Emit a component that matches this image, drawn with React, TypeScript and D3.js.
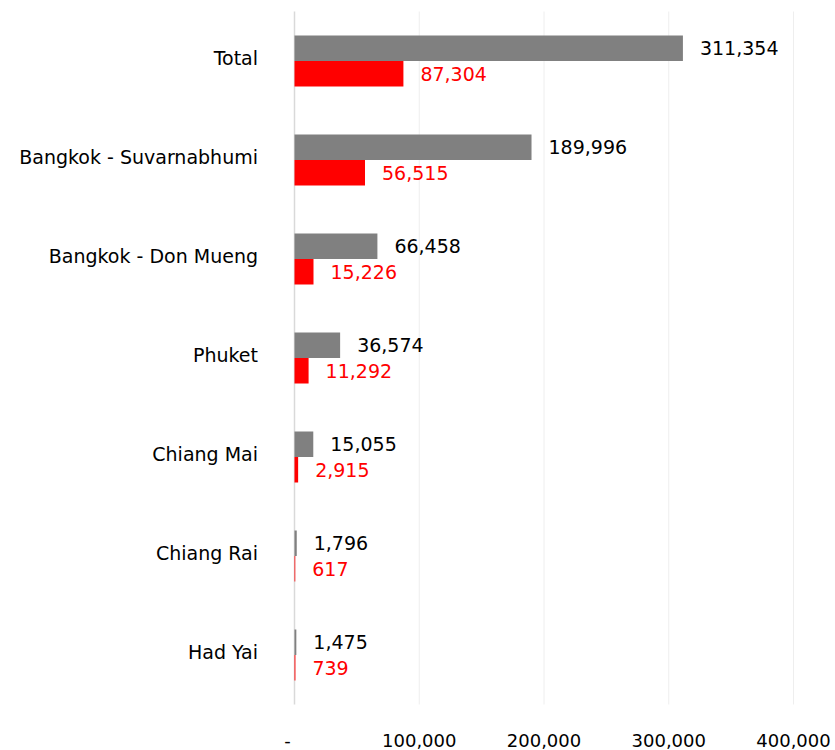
import React, { useEffect, useRef } from "react";
import * as d3 from "d3";

const categories = [
  "Total",
  "Bangkok - Suvarnabhumi",
  "Bangkok - Don Mueng",
  "Phuket",
  "Chiang Mai",
  "Chiang Rai",
  "Had Yai",
];
const grayValues = [311354, 189996, 66458, 36574, 15055, 1796, 1475];
const redValues = [87304, 56515, 15226, 11292, 2915, 617, 739];
const tickValues = [0, 100000, 200000, 300000, 400000];
const tickLabels = ["-", "100,000", "200,000", "300,000", "400,000"];

const App = () => {
  const ref = useRef<SVGSVGElement>(null);

  useEffect(() => {
    const svg = d3.select(ref.current);
    svg.selectAll("*").remove();

    const font = "'DejaVu Sans', Tahoma, sans-serif";
    const fmt = d3.format(",");

    const x = d3.scaleLinear().domain([0, 400000]).range([294.5, 793.5]);
    const y = d3
      .scaleBand()
      .domain(categories)
      .range([11.5, 704.5])
      .paddingInner(0)
      .paddingOuter(0);
    const band = y.bandwidth();
    const barH = 25.5;

    // gridlines
    svg
      .append("g")
      .selectAll("line")
      .data(tickValues.slice(1))
      .join("line")
      .attr("x1", (d) => x(d))
      .attr("x2", (d) => x(d))
      .attr("y1", 11.5)
      .attr("y2", 704.5)
      .attr("stroke", "#eeeeee")
      .attr("stroke-width", 1);

    // axis line
    svg
      .append("line")
      .attr("x1", x(0))
      .attr("x2", x(0))
      .attr("y1", 11.5)
      .attr("y2", 704.5)
      .attr("stroke", "#d9d9d9")
      .attr("stroke-width", 1.5);

    const rows = svg
      .append("g")
      .selectAll("g")
      .data(categories)
      .join("g")
      .attr("transform", (d) => `translate(0, ${(y(d) as number) + band / 2})`);

    rows
      .append("rect")
      .attr("x", x(0))
      .attr("y", -barH)
      .attr("width", (d, i) => x(grayValues[i]) - x(0))
      .attr("height", barH)
      .attr("fill", "#808080");

    rows
      .append("rect")
      .attr("x", x(0))
      .attr("y", 0)
      .attr("width", (d, i) => x(redValues[i]) - x(0))
      .attr("height", barH)
      .attr("fill", "#ff0000");

    rows
      .append("text")
      .attr("x", (d, i) => x(grayValues[i]) + 17)
      .attr("y", -barH / 2)
      .attr("dominant-baseline", "central")
      .attr("font-family", font)
      .attr("font-size", 19)
      .attr("fill", "#000")
      .text((d, i) => fmt(grayValues[i]));

    rows
      .append("text")
      .attr("x", (d, i) => x(redValues[i]) + 17)
      .attr("y", barH / 2)
      .attr("dominant-baseline", "central")
      .attr("font-family", font)
      .attr("font-size", 19)
      .attr("fill", "#ff0000")
      .text((d, i) => fmt(redValues[i]));

    rows
      .append("text")
      .attr("x", 258)
      .attr("y", -3)
      .attr("text-anchor", "end")
      .attr("dominant-baseline", "central")
      .attr("font-family", font)
      .attr("font-size", 19)
      .attr("fill", "#000")
      .text((d) => d);

    // x tick labels
    svg
      .append("g")
      .selectAll("text")
      .data(tickValues)
      .join("text")
      .attr("x", (d) => (d === 0 ? x(d) - 7 : x(d)))
      .attr("y", 740)
      .attr("text-anchor", "middle")
      .attr("dominant-baseline", "central")
      .attr("font-family", font)
      .attr("font-size", 18)
      .attr("fill", "#000")
      .text((d, i) => tickLabels[i]);
  }, []);

  return (
    <div style={{ position: "absolute", left: 0, top: 0 }}>
      <svg ref={ref} width={835} height={750} style={{ display: "block" }} />
    </div>
  );
};

export default App;
